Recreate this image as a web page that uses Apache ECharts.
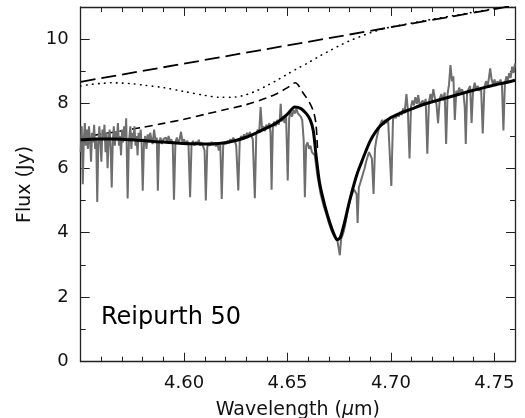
<!DOCTYPE html>
<html><head><meta charset="utf-8">
<script src="https://cdn.jsdelivr.net/npm/echarts@6/dist/echarts.min.js"></script>
<style>html,body{margin:0;padding:0;background:#fff}#c{width:525px;height:418px}</style>
</head><body><div id="c"></div>
<script>
// ---- data ----
const xMin = 4.55, xMax = 4.76, xMajor = 0.05, xMinor = 0.01;
const yMin = 0, yMax = 11, yMajor = 2, yMinorStep = 1;
const labelText = 'Reipurth 50';

// observed spectrum (grey)
const spectrum = [
[4.5500,6.5],[4.5505,7.3],[4.5510,5.5],[4.5515,6.9],[4.5520,7.4],[4.5525,6.7],[4.5530,7.2],[4.5535,6.6],[4.5540,7.3],[4.5545,6.9],
[4.5550,6.2],[4.5555,7.1],[4.5560,6.8],[4.5565,7.35],[4.5570,6.6],[4.5575,6.95],[4.5580,4.95],[4.5585,6.7],[4.5590,7.3],[4.5595,6.8],
[4.5600,6.2],[4.5605,7.2],[4.5610,6.9],[4.5615,7.35],[4.5620,6.5],[4.5625,7.1],[4.5630,6.0],[4.5635,6.9],[4.5640,7.2],[4.5645,6.6],
[4.5650,5.4],[4.5655,6.8],[4.5660,7.3],[4.5665,6.7],[4.5670,7.15],[4.5675,6.9],[4.5680,7.4],[4.5685,6.7],[4.5690,7.0],[4.5695,6.4],
[4.5700,7.2],[4.5705,6.8],[4.5710,7.3],[4.5715,6.9],[4.5720,7.55],[4.5727,5.06],[4.5733,6.8],[4.5740,7.3],[4.5745,6.6],[4.5750,7.1],
[4.5755,6.9],[4.5760,7.3],[4.5765,6.7],[4.5770,7.0],[4.5775,6.4],[4.5780,7.1],[4.5785,6.9],[4.5790,7.2],[4.5795,6.7],[4.5800,5.3],
[4.5806,6.8],[4.5812,7.0],[4.5818,6.6],[4.5824,7.05],[4.5830,6.8],[4.5836,7.1],[4.5842,6.9],[4.5848,6.75],[4.5855,7.2],[4.5862,6.85],
[4.5868,6.95],[4.5873,5.3],[4.5879,6.8],[4.5886,6.95],[4.5893,6.75],[4.5900,6.9],[4.5906,6.85],[4.5912,6.95],[4.5918,6.8],[4.5925,7.0],
[4.5932,6.82],[4.5938,6.9],[4.5945,6.75],[4.5951,5.02],[4.5958,6.8],[4.5965,6.95],[4.5972,6.78],[4.5978,6.88],[4.5985,7.13],[4.5992,6.8],
[4.6000,6.9],[4.6007,6.72],[4.6014,6.85],[4.6021,6.78],[4.6029,5.1],[4.6036,6.75],[4.6043,6.85],[4.6050,6.7],[4.6057,6.82],[4.6064,6.75],
[4.6071,6.88],[4.6078,6.7],[4.6085,6.8],[4.6092,6.68],[4.6099,6.55],[4.6105,5.0],[4.6112,6.65],[4.6119,6.78],[4.6126,6.7],[4.6133,6.82],
[4.6140,6.72],[4.6147,6.8],[4.6154,6.68],[4.6161,6.78],[4.6168,6.55],[4.6175,6.72],[4.6182,5.05],[4.6189,6.7],[4.6196,6.82],[4.6203,6.75],
[4.6210,6.85],[4.6217,6.78],[4.6224,6.9],[4.6231,6.82],[4.6238,6.95],[4.6245,6.85],[4.6252,6.7],[4.6262,5.31],[4.6269,6.85],[4.6276,7.0],
[4.6283,6.9],[4.6290,7.05],[4.6297,6.92],[4.6304,7.1],[4.6311,6.98],[4.6318,7.12],[4.6325,7.0],[4.6332,6.9],[4.6342,5.07],[4.6349,7.05],
[4.6356,7.2],[4.6363,7.1],[4.6370,7.9],[4.6377,7.2],[4.6384,7.3],[4.6391,7.15],[4.6398,7.35],[4.6405,7.25],[4.6412,7.4],[4.6418,7.1],
[4.6423,5.33],[4.6429,7.25],[4.6436,7.45],[4.6443,7.3],[4.6450,7.5],[4.6457,7.35],[4.6463,7.55],[4.6467,8.0],[4.6472,7.45],[4.6479,7.6],
[4.6486,7.4],[4.6493,7.65],[4.6501,5.62],[4.6508,7.55],[4.6515,7.75],[4.6522,7.6],[4.6529,7.8],[4.6536,7.7],[4.6543,7.85],[4.6550,7.7],
[4.6557,7.75],[4.6564,7.6],[4.6571,7.5],[4.6578,6.9],[4.6584,5.1],[4.6590,6.7],[4.6597,6.8],[4.6604,6.6],[4.6611,6.7],[4.6618,6.5],
[4.6625,6.55],[4.6632,6.4],[4.6638,6.1],[4.6645,5.75],[4.6652,5.5],[4.6660,5.2],[4.6668,5.0],[4.6676,4.8],[4.6684,4.65],[4.6692,4.48],
[4.6700,4.3],[4.6708,4.15],[4.6716,4.02],[4.6724,3.92],[4.6732,3.86],[4.6740,3.8],[4.6746,3.75],[4.6753,3.3],[4.6759,3.8],[4.6765,3.9],
[4.6772,4.05],[4.6779,4.25],[4.6786,4.5],[4.6793,4.75],[4.6800,4.95],[4.6807,5.1],[4.6814,5.22],[4.6821,5.35],[4.6828,5.4],[4.6834,5.2],
[4.6839,4.3],[4.6845,5.4],[4.6852,5.55],[4.6859,5.7],[4.6866,5.85],[4.6873,6.0],[4.6880,6.2],[4.6887,6.35],[4.6894,6.5],[4.6900,6.55],
[4.6908,6.3],[4.6916,5.2],[4.6923,6.6],[4.6930,6.9],[4.6937,7.1],[4.6944,7.3],[4.6951,7.4],[4.6958,7.5],[4.6965,7.35],[4.6972,7.5],
[4.6979,7.4],[4.6986,7.55],[4.6993,7.6],[4.7002,5.45],[4.7010,7.5],[4.7017,7.65],[4.7024,7.55],[4.7031,7.7],[4.7038,7.6],[4.7045,7.75],
[4.7052,7.65],[4.7059,7.85],[4.7066,7.7],[4.7075,8.3],[4.7082,7.8],[4.7090,6.3],[4.7097,7.9],[4.7104,8.1],[4.7111,7.95],[4.7118,8.2],
[4.7125,8.0],[4.7132,8.27],[4.7139,7.95],[4.7147,7.9],[4.7154,8.1],[4.7161,7.95],[4.7168,8.15],[4.7176,6.45],[4.7184,8.05],[4.7191,8.3],
[4.7198,8.1],[4.7205,8.45],[4.7212,8.2],[4.7220,8.0],[4.7228,7.4],[4.7236,8.15],[4.7244,8.3],[4.7252,8.1],[4.7260,8.35],[4.7267,6.75],
[4.7274,8.3],[4.7281,8.6],[4.7288,9.2],[4.7295,8.7],[4.7302,8.85],[4.7309,7.5],[4.7316,8.4],[4.7323,8.3],[4.7330,8.5],[4.7337,8.35],
[4.7344,8.45],[4.7351,8.3],[4.7357,7.9],[4.7362,6.75],[4.7368,8.3],[4.7375,8.45],[4.7383,8.55],[4.7390,7.4],[4.7397,8.4],[4.7405,8.65],
[4.7412,8.45],[4.7420,8.55],[4.7428,8.4],[4.7436,8.5],[4.7444,7.08],[4.7452,8.5],[4.7460,8.7],[4.7468,8.55],[4.7474,8.8],[4.7480,9.1],
[4.7487,8.75],[4.7494,8.6],[4.7501,8.75],[4.7508,8.55],[4.7515,8.7],[4.7522,8.6],[4.7530,8.75],[4.7537,8.55],[4.7544,7.17],[4.7551,8.6],
[4.7558,8.85],[4.7565,8.7],[4.7572,8.95],[4.7579,8.8],[4.7586,9.15],[4.7593,8.95],[4.7600,9.25]
];

// total model (thick black)
const model = [
[4.550,6.88],[4.555,6.90],[4.560,6.91],[4.565,6.91],[4.570,6.90],[4.575,6.88],[4.580,6.86],[4.585,6.83],[4.590,6.81],[4.595,6.79],
[4.600,6.77],[4.605,6.76],[4.610,6.75],[4.615,6.76],[4.620,6.79],[4.625,6.86],[4.630,6.96],[4.635,7.10],[4.640,7.25],[4.645,7.42],
[4.650,7.68],[4.6535,7.90],[4.6565,7.85],[4.659,7.70],[4.661,7.50],[4.6625,7.15],[4.6638,6.40],[4.6655,5.55],[4.668,4.85],[4.6705,4.30],
[4.6725,3.95],[4.674,3.78],[4.6755,3.85],[4.6775,4.30],[4.6795,4.85],[4.6815,5.35],[4.6838,5.85],[4.686,6.22],[4.688,6.55],[4.690,6.85],
[4.6925,7.12],[4.695,7.32],[4.700,7.57],[4.705,7.72],[4.710,7.84],[4.715,7.96],[4.720,8.06],[4.725,8.15],[4.730,8.24],[4.735,8.33],
[4.740,8.42],[4.745,8.50],[4.750,8.58],[4.755,8.65],[4.760,8.73]
];

// short-dashed component
const shortDash = [
[4.550,6.95],[4.560,7.06],[4.570,7.16],[4.580,7.27],[4.590,7.39],[4.600,7.52],[4.610,7.67],[4.620,7.82],[4.630,7.97],[4.640,8.18],
[4.645,8.32],[4.650,8.50],[4.6537,8.65],[4.6577,8.32],[4.6605,8.05],[4.6626,7.75],[4.6638,7.35],[4.6645,6.6]
];

// long-dashed continuum
const longDash = [[4.550,8.68],[4.760,11.05]];

// dotted component
const dotted = [
[4.550,8.55],[4.555,8.60],[4.560,8.63],[4.565,8.65],[4.570,8.64],[4.575,8.62],[4.580,8.58],[4.590,8.50],[4.600,8.38],[4.610,8.26],
[4.617,8.20],[4.625,8.21],[4.630,8.28],[4.635,8.40],[4.640,8.56],[4.645,8.73],[4.650,8.92],[4.655,9.10],[4.660,9.27],[4.665,9.46],
[4.670,9.63],[4.675,9.80],[4.680,9.95],[4.685,10.08],[4.690,10.20],[4.695,10.30],[4.700,10.38],[4.710,10.50],[4.720,10.62],[4.730,10.73],
[4.740,10.84],[4.750,10.95],[4.760,11.06]
];

// ---- chart ----
const FONT = 'DejaVu Sans';
const AX = '#222';
const chart = echarts.init(document.getElementById('c'), null, {renderer:'canvas'});

function xAx(pos, interval, tickLen, labels, showLine) {
  return {
    type:'value', min:xMin, max:xMax, interval:interval, position:pos,
    axisLine:{show:showLine, onZero:false, lineStyle:{color:AX, width:1.3}},
    axisTick:{show:true, inside:true, length:tickLen, lineStyle:{color:AX, width:1}},
    axisLabel:{show:labels, formatter:v=>v.toFixed(2), showMinLabel:false, showMaxLabel:false,
      fontSize:18, fontFamily:FONT, color:'#111', margin:13},
    splitLine:{show:false}
  };
}
function yAx(pos, interval, tickLen, labels, showLine) {
  return {
    type:'value', min:yMin, max:yMax, interval:interval, position:pos,
    axisLine:{show:showLine, onZero:false, lineStyle:{color:AX, width:1.3}},
    axisTick:{show:true, inside:true, length:tickLen, lineStyle:{color:AX, width:1}},
    axisLabel:{show:labels, showMaxLabel:false, fontSize:18, fontFamily:FONT, color:'#111', margin:12},
    splitLine:{show:false}
  };
}

const xA = xAx('bottom', xMajor, 9, true, true);
xA.name = '{n|Wavelength (}{i|μ}{n|m)}';
xA.nameLocation = 'middle';
xA.nameGap = 39;
xA.nameTextStyle = {rich:{n:{fontSize:19, fontFamily:FONT, color:'#111'}, i:{fontSize:19, fontFamily:FONT, fontStyle:'italic', color:'#111'}}};

const yA = yAx('left', yMajor, 9, true, true);
yA.name = 'Flux (Jy)';
yA.nameLocation = 'middle';
yA.nameGap = 41;
yA.nameRotate = 90;
yA.nameTextStyle = {fontSize:19, fontFamily:FONT, color:'#111'};

const option = {
  animation:false,
  backgroundColor:'#fff',
  grid:{left:80.7, right:10, top:7, bottom:56.3, containLabel:false, outerBoundsMode:'none'},
  xAxis:[xA, xAx('bottom', xMinor, 5, false, false), xAx('top', xMajor, 9, false, true), xAx('top', xMinor, 5, false, false)],
  yAxis:[yA, yAx('left', yMinorStep, 5, false, false), yAx('right', yMajor, 9, false, true), yAx('right', yMinorStep, 5, false, false)],
  graphic:[{type:'text', left:101, top:306, style:{text:labelText, font:'24px "DejaVu Sans"', fill:'#000'}}],
  series:[
    {type:'line', data:longDash, showSymbol:false, symbol:'none', lineStyle:{color:'#000', width:1.8, type:[15,6]}, z:2},
    {type:'line', data:dotted, showSymbol:false, symbol:'none', smooth:0.3, lineStyle:{color:'#000', width:1.6, type:[0.5,5.5], cap:'round'}, z:2},
    {type:'line', data:shortDash, showSymbol:false, symbol:'none', smooth:0.3, lineStyle:{color:'#000', width:1.6, type:[8,5]}, z:2},
    {type:'line', data:spectrum, showSymbol:false, symbol:'none', sampling:null, lineStyle:{color:'#6e6e6e', width:2}, z:3},
    {type:'line', data:model, showSymbol:false, symbol:'none', smooth:0.25, lineStyle:{color:'#000', width:3}, z:4}
  ]
};
chart.setOption(option);
</script></body></html>
